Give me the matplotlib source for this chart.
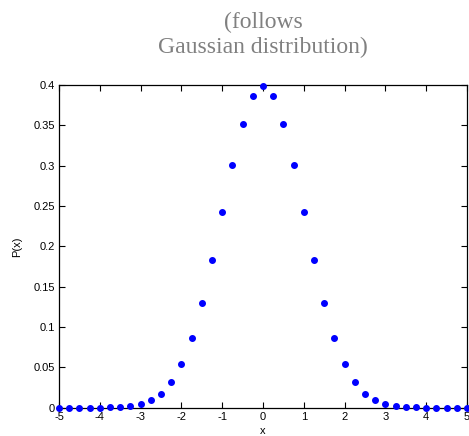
import matplotlib
matplotlib.use("Agg")
import matplotlib.pyplot as plt

x_vals = [-5, -4.75, -4.5, -4.25, -4, -3.75, -3.5, -3.25, -3, -2.75, -2.5, -2.25,
          -2, -1.75, -1.5, -1.25, -1, -0.75, -0.5, -0.25, 0, 0.25, 0.5, 0.75,
          1, 1.25, 1.5, 1.75, 2, 2.25, 2.5, 2.75, 3, 3.25, 3.5, 3.75, 4, 4.25,
          4.5, 4.75, 5]
p_vals = [0.0, 0.0, 0.0, 0.0, 0.0001, 0.0004, 0.0009, 0.002, 0.0044, 0.0091,
          0.0175, 0.0317, 0.054, 0.0863, 0.1295, 0.1826, 0.242, 0.3011, 0.3521,
          0.3867, 0.3989, 0.3867, 0.3521, 0.3011, 0.242, 0.1826, 0.1295, 0.0863,
          0.054, 0.0317, 0.0175, 0.0091, 0.0044, 0.002, 0.0009, 0.0004, 0.0001,
          0.0, 0.0, 0.0, 0.0]
x_ticks = [-5, -4, -3, -2, -1, 0, 1, 2, 3, 4, 5]
y_ticks = [0, 0.05, 0.1, 0.15, 0.2, 0.25, 0.3, 0.35, 0.4]
y_tick_labels = ["0", "0.05", "0.1", "0.15", "0.2", "0.25", "0.3", "0.35", "0.4"]

plt.rcParams['font.family'] = ['Liberation Sans', 'DejaVu Sans']

fig = plt.figure(figsize=(4.69, 4.36), dpi=100)
ax = fig.add_axes([59/469, 1 - 407.7/436, (467-59)/469, (407.7-85)/436])
ax.plot(x_vals, p_vals, linestyle='none', marker='o', markersize=4,
        color='#0000ff', clip_on=False, zorder=3)
ax.set_xlim(-5, 5)
ax.set_ylim(0, 0.4)
ax.set_xticks(x_ticks)
ax.set_xticklabels([str(t) for t in x_ticks])
ax.set_yticks(y_ticks)
ax.set_yticklabels(y_tick_labels)
ax.tick_params(direction='in', length=4, width=0.8, labelsize=8,
               top=True, right=True, pad=3)
for s in ax.spines.values():
    s.set_linewidth(0.9)
ax.set_xlabel('x', fontsize=8, labelpad=3)
ax.set_ylabel('P(x)', fontsize=8, labelpad=8)

fig.text(263/469, 1 - 22/436, '(follows', ha='center', va='center',
         fontsize=17, color='#808080', family=['Liberation Serif'])
fig.text(263/469, 1 - 47/436, 'Gaussian distribution)', ha='center', va='center',
         fontsize=17, color='#808080', family=['Liberation Serif'])

fig.savefig('out.png', dpi=100)
